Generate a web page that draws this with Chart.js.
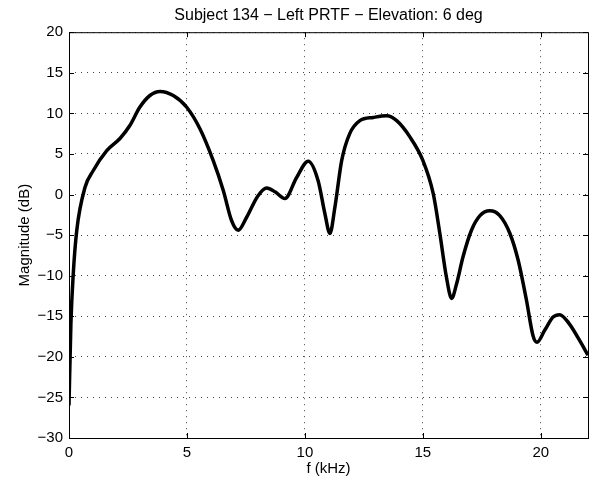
<!DOCTYPE html>
<html>
<head>
<meta charset="utf-8">
<script src="https://cdn.jsdelivr.net/npm/chart.js@4/dist/chart.umd.min.js"></script>
<style>
  html, body { margin: 0; padding: 0; background: #fff; }
  #wrap { width: 593px; height: 483px; }
</style>
</head>
<body>
<div id="wrap"><canvas id="prtf-chart"></canvas></div>
<script>
const freqKHz = [0, 0.08, 0.18, 0.33, 0.68, 1.03, 1.6, 2.16, 2.58, 3.0, 3.43, 3.86, 4.42, 4.99, 5.55, 6.11, 6.54, 6.89, 7.17, 7.53, 8.0, 8.38, 8.75, 9.15, 9.65, 10.14, 10.56, 10.85, 11.06, 11.27, 11.56, 11.9, 12.33, 12.9, 13.46, 13.89, 14.45, 15.0, 15.44, 15.72, 16.0, 16.22, 16.43, 16.7, 17.06, 17.42, 17.84, 18.26, 18.69, 19.04, 19.39, 19.67, 19.84, 20.17, 20.52, 20.8, 21.2, 21.65, 22];
const magnitudeDb = [-26, -16, -9.8, -4.4, 0.9, 2.96, 5.4, 6.9, 8.5, 10.75, 12.2, 12.7, 12.2, 10.75, 8.1, 4.2, 0.5, -3.2, -4.4, -2.8, -0.2, 0.8, 0.3, -0.5, 2.1, 4.1, 1.7, -2.4, -4.8, -1.6, 4.2, 7.5, 9.1, 9.5, 9.7, 9.1, 7.1, 4.2, 0.1, -4.8, -10.2, -12.8, -11, -7.7, -4.4, -2.6, -2.0, -2.6, -4.8, -8.1, -13.0, -17.4, -18.2, -16.7, -15.1, -14.8, -15.9, -18, -19.8];
const xTicks = [0, 5, 10, 15, 20];
const yTicks = [-30, -25, -20, -15, -10, -5, 0, 5, 10, 15, 20];

const points = freqKHz.map((f, i) => ({ x: f, y: magnitudeDb[i] }));

// matlab style box + inward ticks
const boxPlugin = {
  id: 'box',
  afterDraw(chart) {
    const { ctx, chartArea: a, scales } = chart;
    ctx.save();
    ctx.strokeStyle = '#000';
    ctx.lineWidth = 1;
    ctx.strokeRect(a.left + 0.5, a.top + 0.5, a.right - a.left, a.bottom - a.top);
    ctx.beginPath();
    xTicks.forEach(v => {
      const px = Math.round(scales.x.getPixelForValue(v)) + 0.5;
      ctx.moveTo(px, a.bottom); ctx.lineTo(px, a.bottom - 5);
      ctx.moveTo(px, a.top); ctx.lineTo(px, a.top + 5);
    });
    yTicks.forEach(v => {
      const py = Math.round(scales.y.getPixelForValue(v)) + 0.5;
      ctx.moveTo(a.left, py); ctx.lineTo(a.left + 5, py);
      ctx.moveTo(a.right, py); ctx.lineTo(a.right - 5, py);
    });
    ctx.stroke();
    ctx.restore();
  }
};

const font = { family: 'Liberation Sans, Arial, sans-serif', size: 15 };

new Chart(document.getElementById('prtf-chart'), {
  type: 'line',
  data: {
    datasets: [{
      data: points,
      borderColor: '#000',
      borderWidth: 3.5,
      pointRadius: 0,
      fill: false,
      cubicInterpolationMode: 'monotone'
    }]
  },
  options: {
    responsive: true,
    maintainAspectRatio: false,
    animation: false,
    layout: { padding: { left: 0, right: 5, top: 0, bottom: 0 } },
    plugins: {
      legend: { display: false },
      tooltip: { enabled: false },
      title: {
        display: true,
        fullSize: false,
        text: 'Subject 134 \u2212 Left PRTF \u2212 Elevation: 6 deg',
        color: '#000',
        font: { family: font.family, size: 16, weight: 'normal' },
        padding: { top: 6, bottom: 7 }
      }
    },
    scales: {
      x: {
        type: 'linear',
        min: 0,
        max: 22,
        afterBuildTicks: s => { s.ticks = xTicks.map(v => ({ value: v })); },
        afterFit: s => { s.height = 45; },
        ticks: { color: '#000', font, padding: 6, maxRotation: 0 },
        grid: { color: '#444', drawTicks: false },
        border: { display: false, dash: [1, 5] },
        title: { display: true, text: 'f (kHz)', color: '#000', font, padding: { top: 0, bottom: 5 } }
      },
      y: {
        min: -30,
        max: 20,
        afterBuildTicks: s => { s.ticks = yTicks.map(v => ({ value: v })); },
        afterFit: s => { s.width = 69; },
        ticks: {
          color: '#000', font, padding: 6,
          callback: v => (v < 0 ? '\u2212' + Math.abs(v) : String(v))
        },
        grid: { color: '#444', drawTicks: false },
        border: { display: false, dash: [1, 5] },
        title: { display: true, text: 'Magnitude (dB)', color: '#000', font, padding: { top: 16, bottom: 0 } }
      }
    }
  },
  plugins: [boxPlugin]
});
</script>
</body>
</html>
